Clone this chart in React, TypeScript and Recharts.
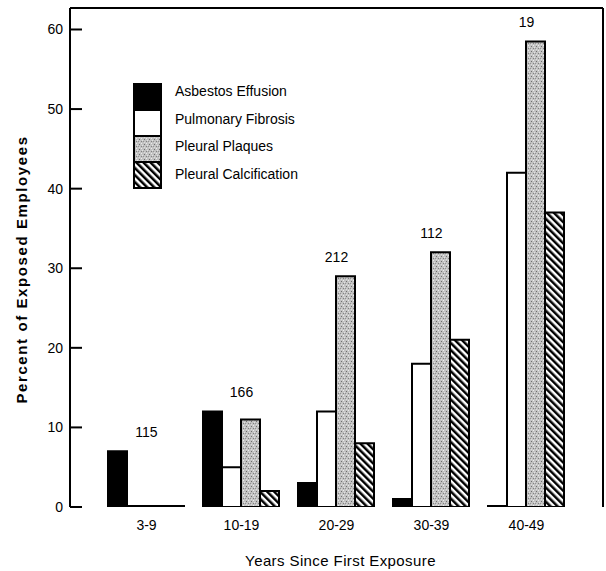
import { ComposedChart, Bar, Line, XAxis, YAxis, Legend, LabelList, Label } from 'recharts';

// values
const ranges = ['3-9', '10-19', '20-29', '30-39', '40-49'];
const workers = [115, 166, 212, 112, 19];
const effusion = [7, 12, 3, 1, 0];
const fibrosis = [0, 5, 12, 18, 42];
const plaques = [0, 11, 29, 32, 58.5];
const calcification = [0, 2, 8, 21, 37];
const yTicks = [0, 10, 20, 30, 40, 50, 60];

const series = [
  { key: 'effusion', name: 'Asbestos Effusion', fill: '#000' },
  { key: 'fibrosis', name: 'Pulmonary Fibrosis', fill: '#fff' },
  { key: 'plaques', name: 'Pleural Plaques', fill: 'url(#stipple)' },
  { key: 'calcification', name: 'Pleural Calcification', fill: 'url(#hatch)' },
];

const data = ranges.map((range, i) => ({
  range,
  effusion: effusion[i],
  fibrosis: fibrosis[i],
  plaques: plaques[i],
  calcification: calcification[i],
  count: workers[i],
  // highest bar of the group, used to sit the sample size above it
  peak: Math.max(effusion[i], fibrosis[i], plaques[i], calcification[i]),
}));

const FONT = '"Liberation Sans", Arial, Helvetica, sans-serif';
const INK = '#000';
const Y_DOMAIN: [number, number] = [0, 62.7];
const X_PAD = { left: 29, right: 29 };

const YTick = (props: any) => {
  const { x, y, payload } = props;
  return (
    <g>
      <line x1={x + 6} x2={x + 18} y1={y} y2={y} stroke="#000" strokeWidth={2} />
      <text x={x - 1} y={y} dy={5} textAnchor="end" fill={INK} fontSize={14} fontFamily={FONT}>
        {payload.value}
      </text>
    </g>
  );
};

const YTitle = (props: any) => {
  const { viewBox } = props;
  const cx = viewBox.x + 1;
  const cy = viewBox.y + viewBox.height / 2 + 12;
  return (
    <text
      x={cx}
      y={cy}
      transform={`rotate(-90, ${cx}, ${cy})`}
      textAnchor="middle"
      dominantBaseline="central"
      fill={INK}
      fontSize={15}
      fontWeight="bold"
      letterSpacing={1.6}
      fontFamily={FONT}
    >
      Percent of Exposed Employees
    </text>
  );
};

// legend drawn from the series list: one stacked column of swatches, names beside
const LegendBox = () => (
  <div style={{ position: 'relative', width: 200, height: 112, fontFamily: FONT }}>
    <svg width={30} height={108} style={{ position: 'absolute', left: 0, top: 5 }}>
      {series.map((s, i) => (
        <rect key={s.key} x={1} y={1 + i * 26} width={27} height={26} fill={s.fill} stroke="#000" strokeWidth={2} />
      ))}
    </svg>
    {series.map((s, i) => (
      <div
        key={s.key}
        style={{
          position: 'absolute',
          left: 42,
          top: i * 27.5,
          lineHeight: '27.5px',
          fontSize: 14,
          color: INK,
          whiteSpace: 'nowrap',
        }}
      >
        {s.name}
      </div>
    ))}
  </div>
);

export default function App() {
  return (
    <div style={{ position: 'absolute', left: 0, top: 0, background: '#fff' }}>
      <ComposedChart
        width={606}
        height={571}
        data={data}
        margin={{ top: 7, right: 2, left: 20, bottom: 0 }}
        barCategoryGap={9}
        barGap={0}
        style={{ fontFamily: FONT }}
      >
        <defs>
          <pattern id="stipple" width={5} height={5} patternUnits="userSpaceOnUse">
            <rect width={5} height={5} fill="#c2c2c2" />
            <rect x={1} y={1} width={1} height={1} fill="#6e6e6e" />
            <rect x={3} y={3} width={1} height={1} fill="#808080" />
            <rect x={3} y={0} width={1} height={1} fill="#ececec" />
            <rect x={0} y={3} width={1} height={1} fill="#939393" />
            <rect x={4} y={2} width={1} height={1} fill="#e2e2e2" />
            <rect x={1} y={4} width={1} height={1} fill="#dcdcdc" />
          </pattern>
          <pattern id="hatch" width={5} height={5} patternUnits="userSpaceOnUse" patternTransform="rotate(-45)">
            <rect width={5} height={5} fill="#fff" />
            <rect width={2.5} height={5} fill="#000" />
          </pattern>
        </defs>

        <XAxis
          dataKey="range"
          height={64}
          padding={X_PAD}
          axisLine={false}
          tickLine={false}
          tickSize={0}
          tickMargin={13}
          tick={{ fill: INK, fontSize: 14, fontFamily: FONT }}
        >
          <Label
            value="Years Since First Exposure"
            position="insideBottom"
            offset={5}
            dx={4}
            fill={INK}
            fontSize={15}
            letterSpacing={0.4}
            fontFamily={FONT}
          />
        </XAxis>
        {/* top and right axes only draw the frame; the count labels ride on them */}
        <XAxis
          xAxisId="top"
          dataKey="range"
          orientation="top"
          height={1}
          padding={X_PAD}
          tick={false}
          tickLine={false}
          axisLine={{ stroke: '#000', strokeWidth: 2 }}
        />
        <YAxis
          width={50}
          domain={Y_DOMAIN}
          ticks={yTicks}
          allowDataOverflow
          axisLine={{ stroke: '#000', strokeWidth: 2 }}
          tickLine={false}
          tickSize={0}
          tickMargin={6}
          tick={<YTick />}
        >
          <Label content={<YTitle />} />
        </YAxis>
        <YAxis
          yAxisId="right"
          orientation="right"
          width={1}
          domain={Y_DOMAIN}
          allowDataOverflow
          tick={false}
          tickLine={false}
          axisLine={{ stroke: '#000', strokeWidth: 2 }}
        />

        <Legend
          layout="vertical"
          align="center"
          verticalAlign="middle"
          content={<LegendBox />}
          wrapperStyle={{ left: 133, top: 78 }}
        />

        {series.map((s) => (
          <Bar
            key={s.key}
            dataKey={s.key}
            name={s.name}
            fill={s.fill}
            stroke="#000"
            strokeWidth={2}
            minPointSize={1}
            isAnimationActive={false}
          />
        ))}

        <Line
          xAxisId="top"
          yAxisId="right"
          dataKey="peak"
          stroke="none"
          dot={false}
          activeDot={false}
          legendType="none"
          isAnimationActive={false}
        >
          <LabelList dataKey="count" position="top" offset={14} fill={INK} fontSize={14} fontFamily={FONT} />
        </Line>
      </ComposedChart>
    </div>
  );
}
